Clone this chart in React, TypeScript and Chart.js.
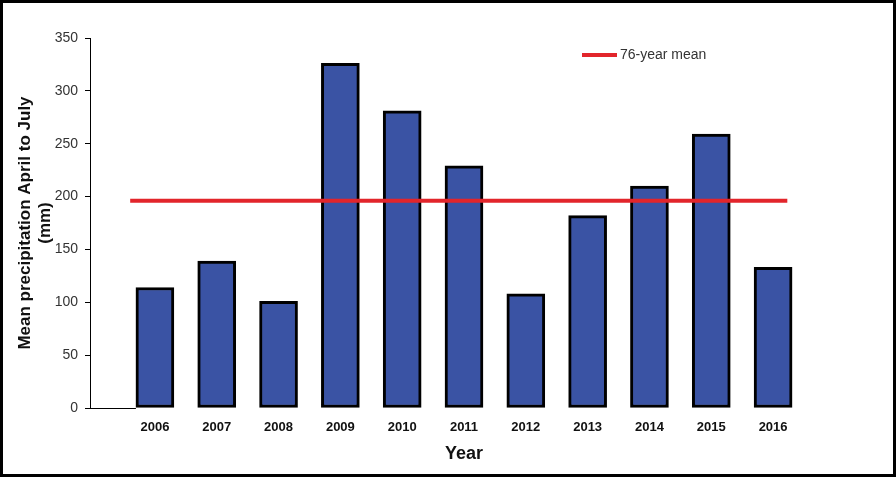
import React, { useEffect, useRef } from "react";
import { Chart, registerables } from "chart.js";

Chart.register(...registerables);

const years = ["2006", "2007", "2008", "2009", "2010", "2011", "2012", "2013", "2014", "2015", "2016"];
const precipitation = [114, 139, 101, 326, 281, 229, 108, 182, 210, 259, 133];
const meanLabel = "76-year mean";
const meanValue = 196;
const meanSpan = [-0.4, 10.23];
const yTicks = [0, 50, 100, 150, 200, 250, 300, 350];

const FONT = "'Liberation Sans', Arial, sans-serif";

const overlayPlugin = {
  id: "overlay",
  afterDraw(chart: any) {
    const { ctx, chartArea, scales } = chart;
    const x = scales.x;
    ctx.save();
    // short x-axis segment from y axis to first bar
    ctx.strokeStyle = "#000";
    ctx.lineWidth = 1;
    ctx.beginPath();
    ctx.moveTo(chartArea.left, chartArea.bottom + 0.5);
    ctx.lineTo(x.getPixelForValue(0) - 19, chartArea.bottom + 0.5);
    ctx.stroke();
    // legend
    const lx = chartArea.left + 492;
    const ly = chartArea.top + 17;
    ctx.strokeStyle = "#E2252B";
    ctx.lineWidth = 4;
    ctx.beginPath();
    ctx.moveTo(lx, ly);
    ctx.lineTo(lx + 35, ly);
    ctx.stroke();
    ctx.fillStyle = "#333";
    ctx.font = `14px ${FONT}`;
    ctx.textBaseline = "middle";
    ctx.textAlign = "left";
    ctx.fillText(chart.data.datasets[0].label, lx + 38, ly);
    ctx.restore();
  },
};

export default function App() {
  const ref = useRef<HTMLCanvasElement | null>(null);
  useEffect(() => {
    if (!ref.current) return;
    const chart = new Chart(ref.current, {
      type: "bar",
      data: {
        datasets: [
          {
            type: "line",
            label: meanLabel,
            data: meanSpan.map((xv) => ({ x: xv, y: meanValue })),
            borderColor: "#E2252B",
            borderWidth: 4,
            pointRadius: 0,
            order: 0,
          } as any,
          {
            type: "bar",
            label: "Precipitation",
            data: precipitation.map((v, i) => ({ x: i, y: v })),
            backgroundColor: "#3A53A4",
            borderColor: "#000",
            borderWidth: 3,
            borderSkipped: false,
            barThickness: 38,
            order: 1,
          } as any,
        ],
      },
      options: {
        responsive: false,
        animation: false,
        layout: { padding: { left: 0, top: 35, right: 55, bottom: 0 } },
        plugins: { legend: { display: false }, tooltip: { enabled: false } },
        scales: {
          x: {
            type: "linear",
            min: -1.05,
            max: 11.05,
            offset: false,
            grid: { display: false, drawTicks: false, offset: false },
            border: { display: false },
            afterBuildTicks: (s: any) => {
              s.ticks = years.map((_, i) => ({ value: i }));
            },
            afterFit: (s: any) => {
              s.height = 66;
            },
            ticks: {
              autoSkip: false,
              maxRotation: 0,
              padding: 12,
              color: "#111",
              font: { family: FONT, size: 13, weight: "bold" },
              callback: (v: any) => years[v] ?? "",
            },
            title: {
              display: true,
              text: "Year",
              color: "#111",
              font: { family: FONT, size: 18, weight: "bold" },
              padding: { top: 0, bottom: 9 },
            },
          },
          y: {
            min: 0,
            max: 350,
            afterBuildTicks: (s: any) => {
              s.ticks = yTicks.map((v) => ({ value: v }));
            },
            afterFit: (s: any) => {
              s.width = 87;
            },
            grid: { display: true, drawOnChartArea: false, drawTicks: true, tickLength: 5, color: "#000" },
            border: { display: true, color: "#000", width: 1 },
            ticks: {
              padding: 7,
              color: "#333",
              font: { family: FONT, size: 14 },
            },
            title: {
              display: true,
              text: ["Mean precipitation April to July", "(mm)"],
              color: "#111",
              font: { family: FONT, size: 17, weight: "bold", lineHeight: 1.2 },
              padding: { top: 12, bottom: 0 },
            },
          },
        },
      } as any,
      plugins: [overlayPlugin],
    });
    return () => chart.destroy();
  }, []);
  return (
    <div
      style={{
        position: "fixed",
        left: 0,
        top: 0,
        width: 896,
        height: 477,
        boxSizing: "border-box",
        border: "3px solid #000",
        background: "#fff",
      }}
    >
      <canvas ref={ref} width={890} height={471} style={{ display: "block", width: 890, height: 471 }} />
    </div>
  );
}
